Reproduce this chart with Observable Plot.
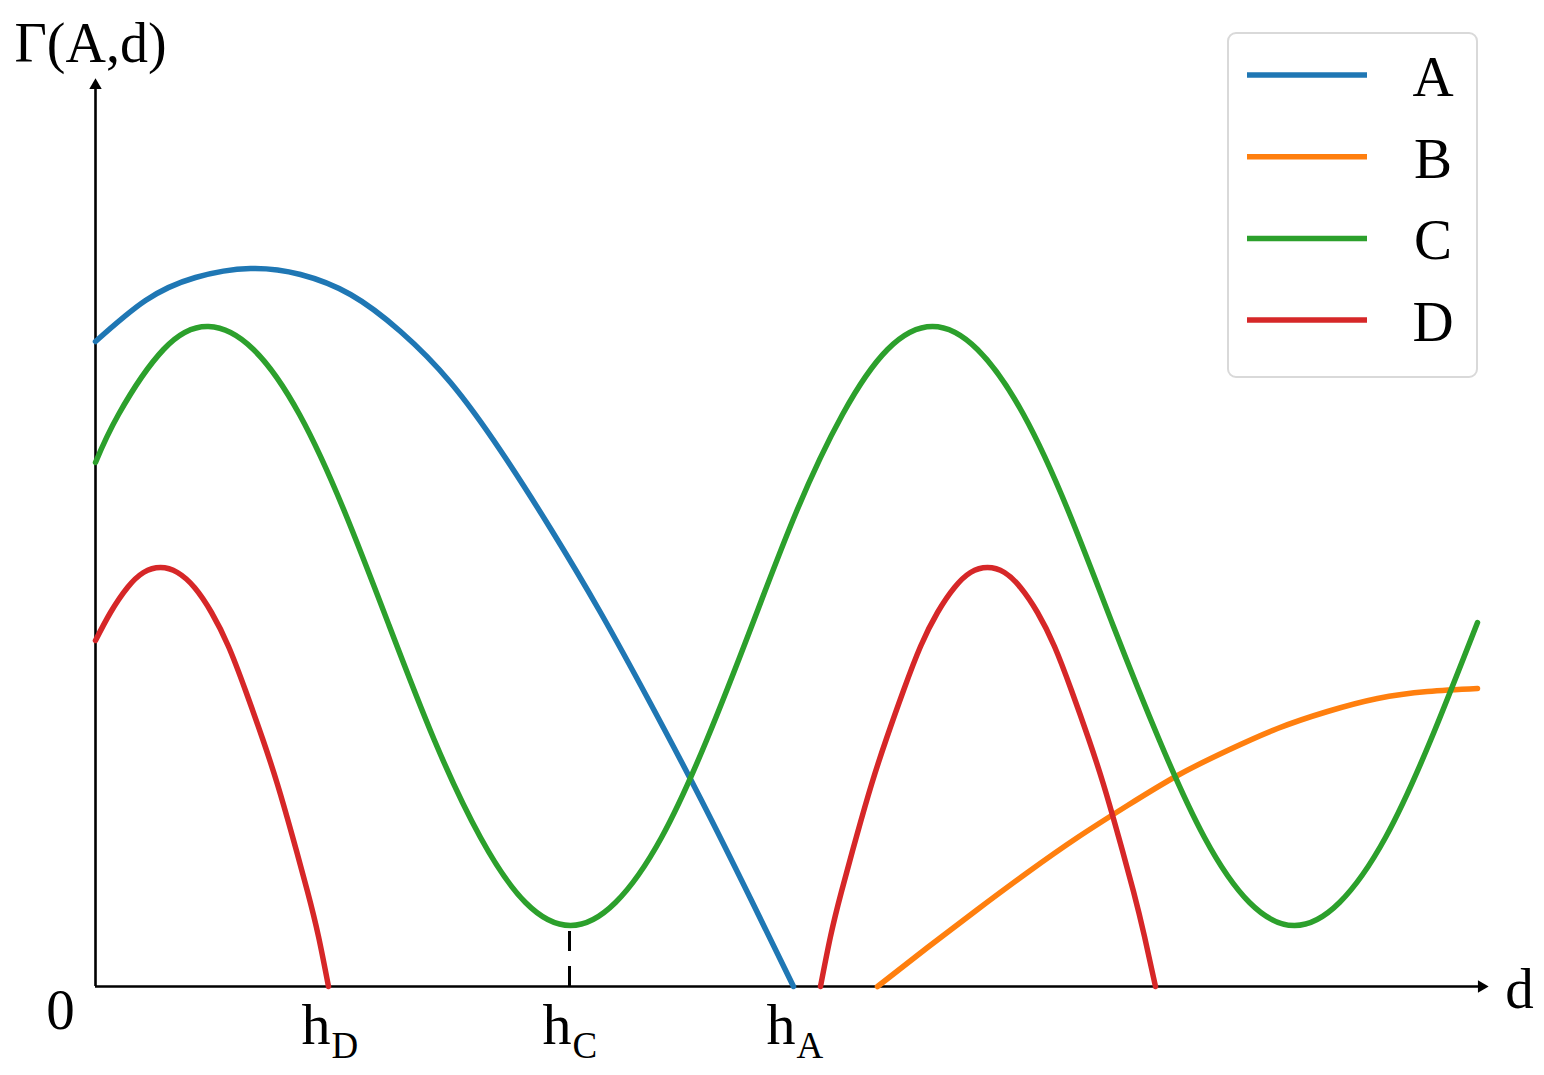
<!DOCTYPE html>
<html>
<head>
<meta charset="utf-8">
<script src="https://cdn.jsdelivr.net/npm/d3@7"></script>
<script src="https://cdn.jsdelivr.net/npm/@observablehq/plot@0.6"></script>
<style>
  html, body { margin: 0; padding: 0; background: #ffffff; }
  #chart { position: relative; width: 1544px; height: 1075px; }
</style>
</head>
<body>
<div id="chart"></div>
<script>
// ---- data (x and y in arbitrary units) ----
const seriesNames  = ["A", "B", "C", "D"];
const seriesColors = ["#1f77b4", "#ff7f0e", "#2ca02c", "#d62728"];

const seriesA = [
  [0, 6.45], [0.5, 6.86], [1.0, 7.09], [1.55, 7.18], [2.05, 7.12], [2.55, 6.92],
  [3.05, 6.55], [3.55, 6.04], [4.05, 5.36], [4.55, 4.58], [5.05, 3.74], [5.55, 2.83],
  [6.05, 1.88], [6.55, 0.88], [6.98, 0]
];
const seriesB = [
  [7.82, 0], [8.32, 0.39], [8.82, 0.77], [9.32, 1.14], [9.82, 1.49], [10.32, 1.81],
  [10.82, 2.11], [11.32, 2.36], [11.82, 2.58], [12.32, 2.75], [12.82, 2.88],
  [13.32, 2.95], [13.82, 2.98]
];
const seriesC = [
  [0, 5.24], [0.23, 5.72], [0.68, 6.37], [1.13, 6.60], [1.58, 6.37], [2.04, 5.72],
  [2.49, 4.75], [2.94, 3.60], [3.39, 2.46], [3.85, 1.49], [4.30, 0.84], [4.75, 0.61],
  [5.20, 0.84], [5.66, 1.49], [6.11, 2.46], [6.56, 3.60], [7.01, 4.75], [7.47, 5.72],
  [7.92, 6.37], [8.37, 6.60], [8.82, 6.37], [9.28, 5.72], [9.73, 4.75], [10.18, 3.60],
  [10.64, 2.46], [11.09, 1.49], [11.54, 0.84], [11.99, 0.61], [12.44, 0.84],
  [12.90, 1.49], [13.35, 2.46], [13.82, 3.64]
];
const seriesD1 = [
  [0, 3.46], [0.15, 3.74], [0.32, 3.99], [0.48, 4.14], [0.65, 4.19], [0.82, 4.14],
  [0.99, 3.99], [1.16, 3.74], [1.33, 3.40], [1.50, 2.96], [1.67, 2.48], [1.82, 2.02],
  [1.97, 1.50], [2.12, 0.95], [2.23, 0.50], [2.33, 0]
];
const seriesD2 = [
  [7.25, 0], [7.35, 0.50], [7.46, 0.95], [7.61, 1.50], [7.76, 2.02], [7.91, 2.48],
  [8.08, 2.96], [8.25, 3.40], [8.42, 3.74], [8.59, 3.99], [8.75, 4.14], [8.92, 4.19],
  [9.09, 4.14], [9.25, 3.99], [9.42, 3.74], [9.59, 3.40], [9.76, 2.96], [9.93, 2.48],
  [10.08, 2.02], [10.23, 1.50], [10.38, 0.95], [10.49, 0.50], [10.60, 0]
];

const tickPositions = [2.33, 4.74, 6.98];
const tickSubs      = ["D", "C", "A"];
const guideTop      = 0.56;     // top of dashed guide under C minimum
const yLabel = "Γ(A,d)";
const xLabel = "d";
const originLabel = "0";
const xMax = 13.93;
const yMax = 9.08;

// ---- build tables ----
function rows(name, seg, pts) {
  return pts.map(([x, y]) => ({ series: name, seg, x, y }));
}
const lineRows = [
  ...rows("A", "A", seriesA),
  ...rows("B", "B", seriesB),
  ...rows("C", "C", seriesC),
  ...rows("D", "D1", seriesD1),
  ...rows("D", "D2", seriesD2)
];
const tickRows = tickPositions.map((p, i) => ({ x: p, sub: tickSubs[i] }));

const serif = "'Liberation Serif', 'Times New Roman', 'DejaVu Serif', serif";

const plot = Plot.plot({
  width: 1544,
  height: 1075,
  marginLeft: 95,
  marginRight: 56,
  marginTop: 78,
  marginBottom: 89,
  x: { domain: [0, xMax], axis: null },
  y: { domain: [0, yMax], axis: null },
  color: { domain: seriesNames, range: seriesColors },
  style: { fontFamily: serif, background: "#ffffff", color: "#000000" },
  marks: [
    // axes
    Plot.ruleY([0], { x1: 0, x2: xMax - 0.07, stroke: "#000", strokeWidth: 2.6 }),
    Plot.ruleX([0], { y1: 0, y2: yMax - 0.07, stroke: "#000", strokeWidth: 2.6 }),
    Plot.dot([0], { x: xMax, y: 0, symbol: "triangle", r: 4.6, fill: "#000", stroke: "none", rotate: 90, dx: -7 }),
    Plot.dot([0], { x: 0, y: yMax, symbol: "triangle", r: 4.6, fill: "#000", stroke: "none", dy: 7 }),
    // dashed guide at h_C
    Plot.ruleX([tickPositions[1]], { y1: 0, y2: guideTop, stroke: "#000", strokeWidth: 3, strokeDasharray: "20,15" }),
    // curves
    Plot.line(lineRows, { x: "x", y: "y", z: "seg", stroke: "series", strokeWidth: 5.5, curve: "natural" }),
    // labels
    Plot.text([yLabel], { x: 0, y: yMax, text: d => d, textAnchor: "middle", lineAnchor: "bottom", dx: -5, dy: -17, fontSize: 56, fontFamily: serif }),
    Plot.text([xLabel], { x: xMax, y: 0, text: d => d, textAnchor: "middle", lineAnchor: "bottom", dx: 31, dy: 21, fontSize: 57, fontFamily: serif }),
    Plot.text([originLabel], { x: 0, y: 0, text: d => d, textAnchor: "middle", lineAnchor: "bottom", dx: -35, dy: 42, fontSize: 57, fontFamily: serif }),
    Plot.text(tickRows, { x: "x", y: 0, text: () => "h", textAnchor: "end", lineAnchor: "bottom", dx: 2, dy: 57, fontSize: 58, fontFamily: serif }),
    Plot.text(tickRows, { x: "x", y: 0, text: "sub", textAnchor: "start", lineAnchor: "bottom", dx: 3, dy: 71, fontSize: 37, fontFamily: serif })
  ]
});

// ---- legend ----
const svg = d3.select(plot);
const lg = svg.append("g").attr("class", "legend");
lg.append("rect")
  .attr("x", 1228).attr("y", 33).attr("width", 249).attr("height", 344)
  .attr("rx", 8).attr("ry", 8)
  .attr("fill", "#ffffff").attr("stroke", "#d9d9d9").attr("stroke-width", 2);
seriesNames.forEach((name, i) => {
  const ly = 75 + i * 81.7;
  lg.append("line")
    .attr("x1", 1247).attr("x2", 1367).attr("y1", ly).attr("y2", ly)
    .attr("stroke", seriesColors[i]).attr("stroke-width", 5.5);
  lg.append("text")
    .attr("x", 1433).attr("y", ly + 21)
    .attr("text-anchor", "middle")
    .attr("font-family", serif).attr("font-size", 57)
    .attr("fill", "#000")
    .text(name);
});

document.getElementById("chart").appendChild(plot);
</script>
</body>
</html>
